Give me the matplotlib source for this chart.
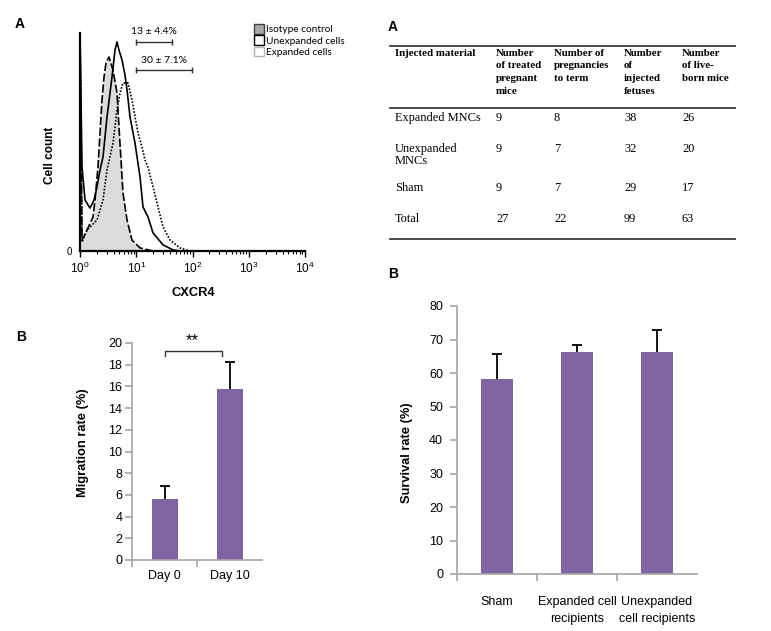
import numpy as np
import matplotlib.pyplot as plt
from matplotlib.patches import Patch
from matplotlib.ticker import LogLocator, FixedLocator, NullFormatter

plt.rcParams['font.family'] = ['Liberation Sans', 'DejaVu Sans']

# ---- A (left): CXCR4 histograms, x = log10 intensity, y = cell count (% of max)
iso_log = [0.0, 0.036, 0.124, 0.231, 0.267, 0.32, 0.356, 0.391, 0.427, 0.462, 0.516,
           0.587, 0.658, 0.693, 0.729, 0.764, 0.836, 0.924, 1.067, 1.30, 4.0]
iso_cnt = [100, 5.0, 9.6, 15.6, 23.4, 38.5, 54.1, 69.3, 79.8, 86.2, 89.0,
           83.0, 72.5, 56.9, 41.7, 26.6, 14.2, 5.0, 1.4, 0, 0]
unexp_log = [0.0, 0.036, 0.089, 0.178, 0.249, 0.302, 0.356, 0.409, 0.48, 0.569, 0.622,
             0.658, 0.693, 0.747, 0.80, 0.836, 0.889, 0.978, 1.067, 1.12, 1.209, 1.298,
             1.476, 1.653, 1.78, 4.0]
unexp_cnt = [100, 38.5, 23.4, 19.7, 23.4, 29.4, 37.2, 43.1, 61.5, 79.8, 92.2,
             95.9, 92.2, 87.6, 80.7, 73.9, 61.5, 49.5, 33.9, 20.2, 15.6, 8.3,
             2.8, 0.5, 0, 0]
exp_log = [0.0, 0.036, 0.124, 0.302, 0.409, 0.48, 0.587, 0.658, 0.711, 0.764, 0.853,
           0.924, 0.978, 1.031, 1.102, 1.156, 1.209, 1.298, 1.387, 1.476, 1.60, 1.778,
           1.956, 4.0]
exp_cnt = [100, 4.1, 9.6, 14.2, 23.4, 37.2, 49.5, 64.7, 72.5, 77.1, 77.1,
           69.3, 61.5, 54.1, 47.7, 41.7, 38.5, 29.4, 20.2, 11.0, 5.0, 1.4,
           0, 0]
gate_lo = [10, 10]
gate_hi = [43, 98]
gate_y = [96, 83]
gate_text = ['13 ± 4.4%', '30 ± 7.1%']
legend_labels = ['Isotype control', 'Unexpanded cells', 'Expanded cells']

# ---- A (right): table
tab_header = ['Injected material', 'Number\nof treated\npregnant\nmice',
              'Number of\npregnancies\nto term', 'Number\nof\ninjected\nfetuses',
              'Number\nof live-\nborn mice']
tab_names = ['Expanded MNCs', 'Unexpanded\nMNCs', 'Sham', 'Total']
tab_treated = [9, 9, 9, 27]
tab_term = [8, 7, 7, 22]
tab_fetuses = [38, 32, 29, 99]
tab_liveborn = [26, 20, 17, 63]

# ---- B (left): migration
mig_days = ['Day 0', 'Day 10']
mig_rate = [5.6, 15.8]
mig_err = [1.2, 2.45]

# ---- B (right): survival
surv_groups = ['Sham', 'Expanded cell\nrecipients', 'Unexpanded\ncell recipients']
surv_rate = [58.3, 66.4, 66.4]
surv_err = [7.4, 2.1, 6.4]

PURPLE = '#8064a2'
GREY = '#a6a6a6'
W, H = 771, 631


def box(x0, y0, x1, y1):
    return [x0 / W, 1 - y1 / H, (x1 - x0) / W, (y1 - y0) / H]


fig = plt.figure(figsize=(7.71, 6.31), dpi=100)
ov = fig.add_axes([0, 0, 1, 1])
ov.set_xlim(0, W)
ov.set_ylim(H, 0)
ov.axis('off')

# panel letters
for x, y, s in [(20, 24, 'A'), (393, 27, 'A'), (21, 337, 'B'), (393, 274, 'B')]:
    ov.text(x, y, s, fontsize=10, fontweight='bold', ha='center', va='center')

# ---------------- histogram
ax1 = fig.add_axes(box(80, 33, 305, 251))
xi = 10 ** np.array(iso_log)
ax1.fill_between(xi, iso_cnt, color='#dcdcdc', lw=0)
ax1.plot(xi, iso_cnt, color='k', lw=1.2, ls=(0, (5, 1.5)))
ax1.plot(10 ** np.array(unexp_log), unexp_cnt, color='k', lw=1.2)
ax1.plot(10 ** np.array(exp_log), exp_cnt, color='k', lw=1.2, ls=(0, (1, 1)))
ax1.set_xscale('log')
ax1.set_xlim(1, 1e4)
ax1.set_ylim(0, 100)
for sp in ['top', 'right']:
    ax1.spines[sp].set_visible(False)
for sp in ['left', 'bottom']:
    ax1.spines[sp].set_linewidth(1.6)
ax1.xaxis.set_major_locator(LogLocator(base=10, numticks=10))
ax1.xaxis.set_minor_locator(LogLocator(base=10, subs=np.arange(2, 10), numticks=10))
ax1.xaxis.set_minor_formatter(NullFormatter())
ax1.tick_params(axis='x', which='major', length=4, width=1, labelsize=8.5, pad=3)
ax1.tick_params(axis='x', which='minor', length=2.5, width=0.8)
ax1.set_yticks([0])
ax1.set_yticklabels(['0'])
ax1.tick_params(axis='y', length=0, labelsize=7, pad=6)
fig.canvas.draw()
xlabs = ax1.get_xticklabels()
xlabs[0].set_ha('left')
xlabs[-1].set_ha('right')
for lo, hi, y, s in zip(gate_lo, gate_hi, gate_y, gate_text):
    ax1.plot([lo, hi], [y, y], color='#333333', lw=1)
    ax1.plot([lo, hi], [y, y], ls='none', marker='|', ms=4, color='#333333', mew=1)
    ax1.text(np.sqrt(lo * hi), y + 2.5, s, fontsize=7.5, family='Lato',
             ha='center', va='bottom')
handles = [Patch(fc='#a9a9a9', ec='#404040', lw=1),
           Patch(fc='white', ec='black', lw=1),
           Patch(fc='white', ec='#b5b5b5', lw=1)]
fig.legend(handles, legend_labels, loc='upper left',
           bbox_to_anchor=(254 / W, 1 - 24 / H), frameon=False,
           prop={'family': 'Lato', 'size': 7.3}, handlelength=1.0,
           handleheight=1.1, handletextpad=0.15, labelspacing=0.1,
           borderpad=0, borderaxespad=0)
ov.text(50, 155, 'Cell count', rotation=90, fontsize=8.5, fontweight='bold',
        ha='center', va='center')
ov.text(193, 293, 'CXCR4', fontsize=9.3, fontweight='bold', ha='center', va='center')

# ---------------- table
col_x = [395, 496, 554, 624, 682]
ov.plot([390, 735], [46, 46], color='#3a3a3a', lw=1.3)
ov.plot([390, 735], [108, 108], color='#3a3a3a', lw=1.3)
ov.plot([390, 735], [239, 239], color='#3a3a3a', lw=1.3)
for x, s in zip(col_x, tab_header):
    ov.text(x, 49, s, family='Liberation Serif', fontweight='bold', fontsize=7.8,
            ha='left', va='top', linespacing=1.5)
row_top = [112, 143, 182, 213]
for i, y in enumerate(row_top):
    cells = [tab_names[i], tab_treated[i], tab_term[i], tab_fetuses[i], tab_liveborn[i]]
    for x, c in zip(col_x, cells):
        ov.text(x, y, str(c), family='Liberation Serif', fontsize=8.9,
                ha='left', va='top', linespacing=1.0)


def style_bar_axes(ax):
    for sp in ['top', 'right']:
        ax.spines[sp].set_visible(False)
    for sp in ['left', 'bottom']:
        ax.spines[sp].set_color(GREY)
        ax.spines[sp].set_linewidth(1.2)
    ax.tick_params(axis='y', color=GREY, length=5, width=1.2, labelsize=9, pad=2)
    ax.tick_params(axis='x', which='major', length=0, labelsize=9)
    ax.tick_params(axis='x', which='minor', color=GREY, length=5, width=1.2)


def upper_err(ax, x, y, e):
    eb = ax.errorbar(x, y, yerr=[np.zeros(len(e)), e], fmt='none', ecolor='black',
                     elinewidth=1.3, capsize=3.3, capthick=1.3)
    eb.lines[1][0].set_visible(False)


# ---------------- migration
ax2 = fig.add_axes(box(132, 343, 262, 560))
xm = np.arange(len(mig_days))
ax2.bar(xm, mig_rate, width=0.4, color=PURPLE)
upper_err(ax2, xm, mig_rate, mig_err)
ax2.set_xlim(-0.5, 1.5)
ax2.set_ylim(0, 20)
ax2.set_yticks(np.arange(0, 21, 2))
ax2.set_xticks(xm)
ax2.set_xticklabels(mig_days)
ax2.xaxis.set_minor_locator(FixedLocator([-0.5, 0.5]))
style_bar_axes(ax2)
ax2.tick_params(axis='x', which='major', pad=7)
ax2.plot([0, 0, 0.88, 0.88], [18.8, 19.3, 19.3, 18.8], color='#333333', lw=1,
         clip_on=False)
ax2.text(0.42, 19.5, '**', ha='center', va='bottom', fontsize=12, clip_on=False)
ov.text(83, 443, 'Migration rate (%)', rotation=90, fontsize=9.3, fontweight='bold',
        ha='center', va='center')

# ---------------- survival
ax3 = fig.add_axes(box(457, 306, 697, 574))
xs = np.arange(len(surv_groups))
ax3.bar(xs, surv_rate, width=0.4, color=PURPLE)
upper_err(ax3, xs, surv_rate, surv_err)
ax3.set_xlim(-0.5, 2.5)
ax3.set_ylim(0, 80)
ax3.set_yticks(np.arange(0, 81, 10))
ax3.set_xticks(xs)
ax3.set_xticklabels(surv_groups, linespacing=1.55)
ax3.xaxis.set_minor_locator(FixedLocator([-0.5, 0.5, 1.5]))
style_bar_axes(ax3)
ax3.tick_params(axis='x', which='major', pad=16)
ax3.tick_params(axis='y', pad=5)
ov.text(407, 453, 'Survival rate (%)', rotation=90, fontsize=9.3, fontweight='bold',
        ha='center', va='center')

fig.savefig('out.png', dpi=100)
